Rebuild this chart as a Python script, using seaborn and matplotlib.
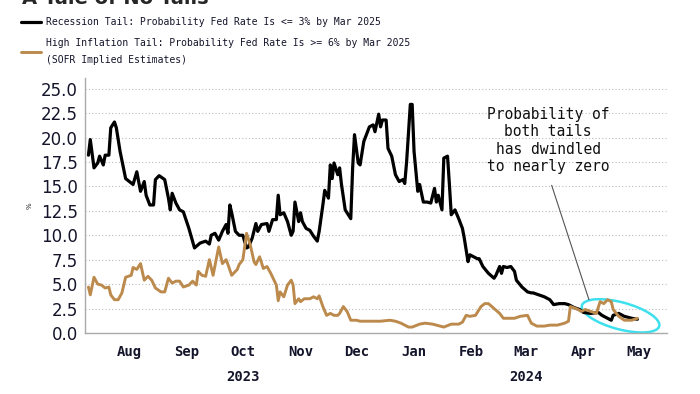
import pandas as pd
import matplotlib
matplotlib.use("Agg")
import matplotlib.pyplot as plt
import matplotlib.dates as mdates
import matplotlib.ticker as mticker
from matplotlib.patches import Ellipse
from matplotlib.lines import Line2D
from matplotlib.transforms import ScaledTranslation, blended_transform_factory
import seaborn as sns

# Recession tail (black)
rec_dates = [
    "2023-07-25", "2023-07-26", "2023-07-28", "2023-07-30", "2023-07-31", "2023-08-02",
    "2023-08-03", "2023-08-05", "2023-08-06", "2023-08-08", "2023-08-09", "2023-08-11",
    "2023-08-14", "2023-08-16", "2023-08-18", "2023-08-20", "2023-08-22", "2023-08-24",
    "2023-08-25", "2023-08-27", "2023-08-29", "2023-08-30", "2023-09-01", "2023-09-04",
    "2023-09-06", "2023-09-07", "2023-09-08", "2023-09-10", "2023-09-12", "2023-09-14",
    "2023-09-17", "2023-09-20", "2023-09-23", "2023-09-26", "2023-09-28", "2023-09-29",
    "2023-10-01", "2023-10-03", "2023-10-05", "2023-10-07", "2023-10-08", "2023-10-09",
    "2023-10-10", "2023-10-12", "2023-10-14", "2023-10-16", "2023-10-18", "2023-10-19",
    "2023-10-21", "2023-10-23", "2023-10-24", "2023-10-26", "2023-10-29", "2023-10-30",
    "2023-11-01", "2023-11-03", "2023-11-04", "2023-11-05", "2023-11-07", "2023-11-09",
    "2023-11-11", "2023-11-12", "2023-11-13", "2023-11-15", "2023-11-16", "2023-11-17",
    "2023-11-19", "2023-11-21", "2023-11-23", "2023-11-25", "2023-11-26", "2023-11-28",
    "2023-11-29", "2023-12-01", "2023-12-02", "2023-12-03", "2023-12-04", "2023-12-06",
    "2023-12-07", "2023-12-08", "2023-12-10", "2023-12-11", "2023-12-13", "2023-12-14",
    "2023-12-15", "2023-12-17", "2023-12-18", "2023-12-20", "2023-12-23", "2023-12-25",
    "2023-12-26", "2023-12-28", "2023-12-29", "2023-12-30", "2024-01-01", "2024-01-02",
    "2024-01-04", "2024-01-06", "2024-01-08", "2024-01-10", "2024-01-11", "2024-01-12",
    "2024-01-14", "2024-01-15", "2024-01-16", "2024-01-18", "2024-01-19", "2024-01-21",
    "2024-01-23", "2024-01-25", "2024-01-27", "2024-01-28", "2024-01-29", "2024-01-31",
    "2024-02-01", "2024-02-03", "2024-02-04", "2024-02-05", "2024-02-07", "2024-02-09",
    "2024-02-11", "2024-02-12", "2024-02-14", "2024-02-15", "2024-02-17", "2024-02-19",
    "2024-02-20", "2024-02-22", "2024-02-25", "2024-02-28", "2024-02-29", "2024-03-02",
    "2024-03-03", "2024-03-04", "2024-03-06", "2024-03-08", "2024-03-10", "2024-03-11",
    "2024-03-14", "2024-03-17", "2024-03-19", "2024-03-20", "2024-03-23", "2024-03-26",
    "2024-03-29", "2024-03-31", "2024-04-03", "2024-04-06", "2024-04-08", "2024-04-11",
    "2024-04-14", "2024-04-16", "2024-04-20", "2024-04-24", "2024-04-26", "2024-04-29",
    "2024-05-01", "2024-05-02", "2024-05-05", "2024-05-08", "2024-05-12", "2024-05-15",
]
rec_vals = [
    18.2, 19.8, 16.9, 17.4, 18.1, 17.2,
    18.2, 18.2, 21.0, 21.6, 21.0, 18.6,
    15.8, 15.5, 15.2, 16.5, 14.5, 15.5,
    14.1, 13.1, 13.1, 15.7, 16.1, 15.7,
    13.8, 12.6, 14.3, 13.3, 12.6, 12.4,
    10.7, 8.7, 9.2, 9.4, 9.1, 10.0,
    10.2, 9.5, 10.4, 11.1, 10.2, 13.1,
    12.3, 10.4, 10.0, 10.0, 8.7, 8.8,
    9.7, 11.2, 10.4, 11.1, 11.2, 10.4,
    11.6, 11.6, 14.1, 12.1, 12.3, 11.4,
    10.0, 10.4, 13.4, 11.4, 12.3, 11.4,
    10.7, 10.5, 9.9, 9.4, 10.4, 13.1,
    14.6, 13.8, 17.2, 15.8, 17.4, 16.2,
    16.9, 15.2, 12.6, 12.3, 11.7, 16.9,
    20.3, 17.4, 17.2, 19.6, 21.1, 21.3,
    20.6, 22.4, 21.1, 21.8, 21.8, 18.9,
    18.1, 16.2, 15.5, 15.7, 15.3, 17.5,
    23.4, 23.4, 18.6, 14.5, 15.2, 13.4,
    13.4, 13.3, 14.8, 13.4, 14.1, 12.6,
    17.9, 18.1, 15.2, 12.1, 12.6, 11.7,
    10.7, 9.7, 7.3, 8.0, 7.8, 7.6,
    7.6, 6.8, 6.1, 5.6, 5.9, 6.8,
    6.1, 6.8, 6.7, 6.8, 6.3, 5.4,
    4.7, 4.2, 4.1, 4.1, 3.9, 3.7,
    3.4, 2.9, 3.0, 3.0, 2.9, 2.6,
    2.4, 2.1, 2.0, 2.1, 1.8, 1.5,
    1.3, 1.8, 2.0, 1.7, 1.5, 1.4,
]

# High inflation tail (tan)
inf_dates = [
    "2023-07-25", "2023-07-26", "2023-07-28", "2023-07-30", "2023-08-01", "2023-08-03",
    "2023-08-05", "2023-08-06", "2023-08-08", "2023-08-10", "2023-08-12", "2023-08-14",
    "2023-08-17", "2023-08-18", "2023-08-20", "2023-08-22", "2023-08-24", "2023-08-26",
    "2023-08-28", "2023-08-30", "2023-09-02", "2023-09-04", "2023-09-06", "2023-09-08",
    "2023-09-10", "2023-09-12", "2023-09-14", "2023-09-17", "2023-09-19", "2023-09-21",
    "2023-09-22", "2023-09-24", "2023-09-26", "2023-09-28", "2023-09-30", "2023-10-03",
    "2023-10-05", "2023-10-07", "2023-10-08", "2023-10-10", "2023-10-13", "2023-10-14",
    "2023-10-16", "2023-10-18", "2023-10-20", "2023-10-22", "2023-10-23", "2023-10-25",
    "2023-10-27", "2023-10-29", "2023-10-31", "2023-11-03", "2023-11-04", "2023-11-05",
    "2023-11-07", "2023-11-09", "2023-11-11", "2023-11-12", "2023-11-13", "2023-11-15",
    "2023-11-16", "2023-11-18", "2023-11-21", "2023-11-23", "2023-11-25", "2023-11-26",
    "2023-11-28", "2023-11-30", "2023-12-02", "2023-12-04", "2023-12-06", "2023-12-07",
    "2023-12-09", "2023-12-11", "2023-12-13", "2023-12-16", "2023-12-18", "2023-12-22",
    "2023-12-25", "2023-12-29", "2024-01-03", "2024-01-06", "2024-01-09", "2024-01-13",
    "2024-01-15", "2024-01-19", "2024-01-22", "2024-01-26", "2024-01-28", "2024-02-01",
    "2024-02-05", "2024-02-09", "2024-02-11", "2024-02-13", "2024-02-15", "2024-02-18",
    "2024-02-21", "2024-02-23", "2024-02-25", "2024-02-28", "2024-03-02", "2024-03-04",
    "2024-03-07", "2024-03-10", "2024-03-13", "2024-03-17", "2024-03-19", "2024-03-22",
    "2024-03-26", "2024-03-29", "2024-04-02", "2024-04-06", "2024-04-08", "2024-04-09",
    "2024-04-12", "2024-04-15", "2024-04-17", "2024-04-20", "2024-04-23", "2024-04-25",
    "2024-04-27", "2024-04-29", "2024-05-01", "2024-05-02", "2024-05-05", "2024-05-08",
    "2024-05-12", "2024-05-15",
]
inf_vals = [
    4.7, 3.9, 5.7, 5.0, 4.9, 4.6,
    4.7, 3.9, 3.4, 3.4, 4.1, 5.7,
    5.9, 6.7, 6.5, 7.1, 5.4, 5.8,
    5.4, 4.6, 4.2, 4.2, 5.6, 5.1,
    5.3, 5.3, 4.7, 4.9, 5.3, 4.9,
    6.3, 5.9, 5.8, 7.5, 5.9, 8.8,
    7.1, 7.5, 7.0, 5.9, 6.5, 7.0,
    7.5, 10.2, 9.0, 7.3, 7.0, 7.8,
    6.6, 6.8, 6.1, 4.9, 3.3, 4.2,
    3.7, 4.9, 5.4, 4.9, 3.0, 3.5,
    3.2, 3.5, 3.5, 3.7, 3.5, 3.8,
    2.7, 1.8, 2.0, 1.8, 1.8, 2.0,
    2.7, 2.2, 1.3, 1.3, 1.2, 1.2,
    1.2, 1.2, 1.3, 1.2, 1.0, 0.6,
    0.6, 0.9, 1.0, 0.9, 0.8, 0.6,
    0.9, 0.9, 1.1, 1.8, 1.7, 1.8,
    2.7, 3.0, 3.0, 2.5, 2.0, 1.5,
    1.5, 1.5, 1.7, 1.8, 1.0, 0.7,
    0.7, 0.8, 0.8, 1.0, 1.2, 2.7,
    2.5, 2.2, 2.4, 2.2, 2.0, 3.2,
    3.0, 3.4, 3.2, 2.4, 1.7, 1.3,
    1.3, 1.5,
]

rec_label = "Recession Tail: Probability Fed Rate Is <= 3% by Mar 2025"
inf_label = "High Inflation Tail: Probability Fed Rate Is >= 6% by Mar 2025"
inf_sub = "(SOFR Implied Estimates)"
note_text = "Probability of\nboth tails\nhas dwindled\nto nearly zero"
y_ticks = [0, 2.5, 5, 7.5, 10, 12.5, 15, 17.5, 20, 22.5, 25]

black = "black"
tan = "#bb8a4c"
ink = "#14142b"

rec = pd.DataFrame({"date": pd.to_datetime(rec_dates), "value": rec_vals})
inf = pd.DataFrame({"date": pd.to_datetime(inf_dates), "value": inf_vals})

sns.set_style("white")
plt.rcParams["font.family"] = ["DejaVu Sans"]

fig = plt.figure(figsize=(7, 3.94), dpi=100)
ax = fig.add_axes([0.121, 0.155, 0.832, 0.647])

sns.lineplot(data=rec, x="date", y="value", ax=ax, color=black, lw=2.3, legend=False)
sns.lineplot(data=inf, x="date", y="value", ax=ax, color=tan, lw=2.1, legend=False)

ax.set_xlim(pd.Timestamp("2023-07-23"), pd.Timestamp("2024-05-31"))
ax.set_ylim(0, 26.1)
ax.set_yticks(y_ticks)
ax.yaxis.set_major_formatter(mticker.FormatStrFormatter("%.1f"))
ax.tick_params(axis="y", labelsize=12, length=0, pad=5, labelcolor=ink)

ax.xaxis.set_major_locator(mdates.MonthLocator())
ax.xaxis.set_major_formatter(mticker.NullFormatter())
ax.xaxis.set_minor_locator(mdates.MonthLocator(bymonthday=16))
ax.xaxis.set_minor_formatter(mdates.DateFormatter("%b"))
ax.tick_params(axis="x", which="major", length=3, color="#999999", direction="out")
ax.tick_params(axis="x", which="minor", length=0, pad=9)
for lbl in ax.get_xticklabels(minor=True):
    lbl.set_fontfamily("DejaVu Sans Mono")
    lbl.set_fontweight("bold")
    lbl.set_fontsize(10)
    lbl.set_color(ink)

trans = blended_transform_factory(ax.transData, ax.transAxes)
for d, yr in [("2023-10-16", "2023"), ("2024-03-16", "2024")]:
    ax.text(pd.Timestamp(d), -0.145, yr, transform=trans, ha="center", va="top",
            family="DejaVu Sans Mono", weight="bold", fontsize=10, color=ink)

ax.set_xlabel("")
ax.set_ylabel("%", fontsize=5, rotation=90, labelpad=6)
ax.grid(axis="y", color="#bbbbbb", lw=0.8, ls=(0, (1, 2)))
ax.grid(axis="x", visible=False)
for s in ["top", "right"]:
    ax.spines[s].set_visible(False)
for s in ["left", "bottom"]:
    ax.spines[s].set_color("#aaaaaa")
    ax.spines[s].set_linewidth(1)

# legend drawn by hand so the three lines sit where the original puts them
H = 394.0
W = 700.0
fig.add_artist(Line2D([21 / W, 41 / W], [1 - 22 / H, 1 - 22 / H], color=black, lw=2.3,
                      transform=fig.transFigure))
fig.add_artist(Line2D([21 / W, 41 / W], [1 - 51.5 / H, 1 - 51.5 / H], color=tan, lw=2.1,
                      transform=fig.transFigure))
for txt, ypx in [(rec_label, 22), (inf_label, 43), (inf_sub, 60)]:
    fig.text(46 / W, 1 - ypx / H, txt, family="DejaVu Sans Mono", fontsize=7.0,
             va="center", ha="left", color=ink)

# title sits mostly above the canvas, as in the original crop
fig.text(0.032, 1 - 4 / H, "A Tale of No Tails", fontsize=14, weight="bold",
         va="baseline", ha="left")

ax.annotate(note_text, xy=(pd.Timestamp("2024-04-19"), 3.4),
            xytext=(pd.Timestamp("2024-03-28"), 19.7),
            ha="center", va="center", family="DejaVu Sans Mono", fontsize=10.5,
            linespacing=1.2, color="#111111",
            arrowprops=dict(arrowstyle="-", color="#555555", lw=0.8,
                            relpos=(0.5, 0), shrinkA=6, shrinkB=0))

ell_trans = fig.dpi_scale_trans + ScaledTranslation(
    mdates.date2num(pd.Timestamp("2024-05-06")), 1.75, ax.transData)
ax.add_patch(Ellipse((0, 0), 0.8, 0.27, angle=-15, transform=ell_trans,
                     fill=False, ec="#3fe0ee", lw=1.8, clip_on=False))

fig.savefig("out.png", dpi=100)
